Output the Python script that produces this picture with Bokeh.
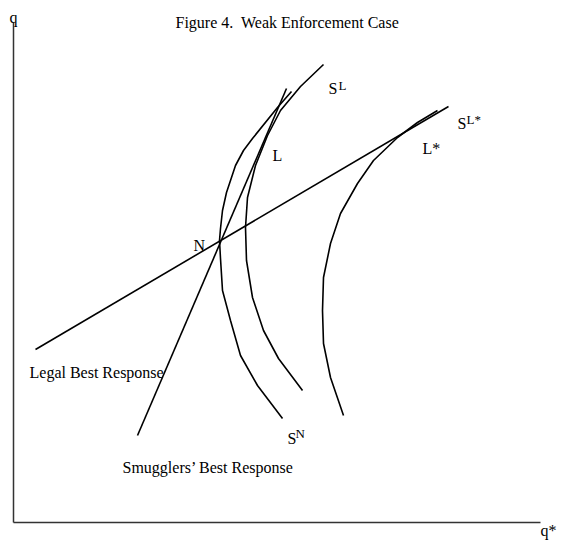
from bokeh.plotting import figure
from bokeh.models import Range1d, Label
from bokeh.embed import file_html
from bokeh.resources import INLINE

# Axis extents (q* horizontal, q vertical)
qstar_axis_max = 527
q_axis_max = 500

# Straight best-response lines (q*, q)
legal_br_qstar = [22, 435]
legal_br_q = [173, 416]
smug_br_qstar = [124, 273]
smug_br_q = [87, 434]

# Smugglers' iso-profit through N
sn_qstar = [278, 264, 239, 230, 222, 213, 209, 207, 206, 207, 209, 217, 227, 244, 269]
sn_q = [431, 415, 384, 372, 357, 330, 312, 294, 282, 264, 232, 202, 167, 137, 104]

# Iso-profit through L (S^L)
sl_qstar = [310, 287, 267, 254, 242, 234, 232, 233, 239, 250, 265, 289]
sl_q = [458, 436, 412, 387, 357, 325, 295, 262, 225, 192, 164, 132]

# Iso-profit through L*
lstar_qstar = [424, 404, 384, 360, 344, 327, 317, 310, 309, 310, 317, 330]
lstar_q = [412, 400, 385, 362, 339, 309, 279, 245, 212, 179, 145, 107]

FONT = "Liberation Serif"

p = figure(width=568, height=544, output_backend="svg", toolbar_location=None,
           x_range=Range1d(-13, 555), y_range=Range1d(-22, 522),
           min_border=0)
p.grid.visible = False
p.axis.visible = False
p.outline_line_color = None
p.background_fill_color = "white"
p.border_fill_color = "white"

# axes
p.line([0, 0], [0, q_axis_max], line_color="#333333", line_width=1.5)
p.line([0, qstar_axis_max], [0, 0], line_color="#333333", line_width=1.5)

lw = 1.6
p.line(legal_br_qstar, legal_br_q, line_color="black", line_width=lw)
p.line(smug_br_qstar, smug_br_q, line_color="black", line_width=lw)
p.line(sn_qstar, sn_q, line_color="black", line_width=lw)
p.line(sl_qstar, sl_q, line_color="black", line_width=lw)
p.line(lstar_qstar, lstar_q, line_color="black", line_width=lw)

def lab(x, y, t, size="16px"):
    p.add_layout(Label(x=x, y=y, text=t, text_font=FONT, text_font_size=size,
                       text_color="black", text_baseline="alphabetic", text_align="left"))

lab(162, 500, "Figure 4.\u00a0 Weak Enforcement Case")
lab(-4, 505, "q")
lab(527, -8, "q*")
lab(180, 277, "N")
lab(259, 367, "L")
lab(315, 434, "S")
lab(325, 437, "L", "13px")
lab(409, 374, "L*")
lab(444, 399, "S")
lab(453, 403, "L*", "13px")
lab(274, 84, "S")
lab(282, 89, "N", "13px")
lab(16, 150, "Legal Best Response")
lab(109, 55, "Smugglers\u2019 Best Response")

open("out.html", "w").write(file_html(p, INLINE))
